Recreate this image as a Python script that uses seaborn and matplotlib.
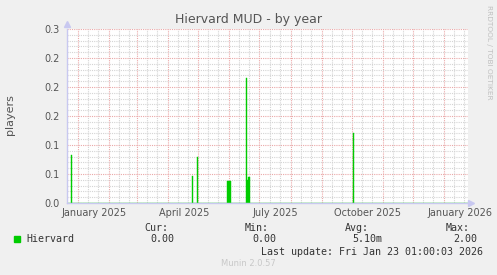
import numpy as np
import pandas as pd
import matplotlib
matplotlib.use("Agg")
import matplotlib.pyplot as plt
import seaborn as sns

# ---- data ----
title = "Hiervard MUD - by year"
ylabel = "players"
start_date = "2024-12-21"
end_date = "2026-01-25"
event_dates = ["2024-12-25", "2025-04-25", "2025-04-30",
               "2025-05-30", "2025-05-31", "2025-06-01", "2025-06-02",
               "2025-06-18", "2025-06-19", "2025-06-20", "2025-06-21",
               "2025-10-02"]
event_values = [0.083, 0.047, 0.080,
                0.038, 0.038, 0.038, 0.038,
                0.215, 0.040, 0.045, 0.045,
                0.120]
month_labels = ["January 2025", "April 2025", "July 2025", "October 2025", "January 2026"]
month_label_dates = ["2025-01-17", "2025-04-17", "2025-07-17", "2025-10-17", "2026-01-17"]
legend_name = "Hiervard"
stat_names = ["Cur:", "Min:", "Avg:", "Max:"]
stat_values = ["0.00", "0.00", "5.10m", "2.00"]
last_update = "Last update: Fri Jan 23 01:00:03 2026"
version = "Munin 2.0.57"

W, H = 497, 275
sns.set_style("white")
plt.rcParams['font.family'] = ['DejaVu Sans']

t0 = pd.Timestamp(start_date)
def off(d):
    return (pd.Timestamp(d) - t0).days

span = off(end_date)
df = pd.DataFrame({"day": [off(d) + 0.5 for d in event_dates], "value": event_values})

fig = plt.figure(figsize=(W / 100, H / 100), dpi=100, facecolor="#F0F0F0")
ax = fig.add_axes([67 / W, 1 - 203 / H, 401 / W, 174 / H])
ax.set_facecolor("white")

green = "#00CC00"
sns.histplot(data=df, x="day", weights="value", binwidth=1, binrange=(0, span),
             color=green, alpha=1.0, edgecolor=green, linewidth=0.3, ax=ax, stat="count")

ax.set_xlim(0, span)
ax.set_ylim(0, 0.30)

# grid lines
major_red = "#EAA8A8"
minor_gray = "#D4D4D4"
months = pd.date_range("2025-01-01", end_date, freq="MS")
month_x = [off(m) for m in months]
minor_days = [off(d) for d in pd.date_range(start_date, end_date, freq="D") if d.day in (11, 21)]
ax.set_xticks(month_x)
ax.set_xticks(minor_days, minor=True)
ax.set_xticklabels([])
ax.tick_params(axis="x", which="major", length=3, color=major_red, direction="out")
ax.tick_params(axis="x", which="minor", length=2, color=minor_gray, direction="out")

yt = np.arange(0, 0.301, 0.05)
ax.set_yticks(yt)
ax.set_yticks(np.arange(0, 0.301, 0.01), minor=True)
ax.set_yticklabels([f"{v:.1f}" for v in yt], fontsize=7, color="#555555")
ax.tick_params(axis="y", which="major", length=2, color=major_red, pad=3)
ax.tick_params(axis="y", which="minor", length=2, color=minor_gray)

ax.grid(True, which="minor", axis="both", color=minor_gray, linestyle=(0, (1, 1)), linewidth=0.8)
ax.grid(True, which="major", axis="both", color=major_red, linestyle=(0, (1, 1)), linewidth=0.8)
ax.set_axisbelow(True)

for sp in ["top", "right"]:
    ax.spines[sp].set_visible(False)
for sp in ["left", "bottom"]:
    ax.spines[sp].set_color("#C8C8F0")
    ax.spines[sp].set_linewidth(1)
ax.plot([0], [1.03], marker="^", color="#C8C8F0", markersize=4,
        transform=ax.transAxes, clip_on=False)
ax.plot([1.008], [0], marker=">", color="#C8C8F0", markersize=4,
        transform=ax.transAxes, clip_on=False)

for lab, d in zip(month_labels, month_label_dates):
    ax.text(off(d), -0.03, lab, transform=ax.get_xaxis_transform(),
            ha="center", va="top", fontsize=7, color="#555555")

ax.set_xlabel("")
ax.set_ylabel("")

def ftext(x, y, s, **kw):
    fig.text(x / W, 1 - y / H, s, **kw)

ftext(249, 19.5, title, ha="center", va="center", fontsize=9, color="#555555")
ftext(10, 115, ylabel, ha="center", va="center", rotation=90, fontsize=8, color="#555555")
ftext(489, 52, "RRDTOOL / TOBI OETIKER", ha="center", va="center", rotation=270,
      fontsize=5.3, color="#C0C0C0")

mono = "DejaVu Sans Mono"
fig.patches.append(plt.Rectangle((14 / W, 1 - 242 / H), 6 / W, 6 / H,
                                 transform=fig.transFigure, color=green))
ftext(26, 239, legend_name, ha="left", va="center", fontsize=7.2, family=mono, color="#333333")
name_x = [168, 269, 369, 470]
val_x = [174, 276, 382, 477]
for n, v, nx, vx in zip(stat_names, stat_values, name_x, val_x):
    ftext(nx, 228, n, ha="right", va="center", fontsize=7.2, family=mono, color="#333333")
    ftext(vx, 239, v, ha="right", va="center", fontsize=7.2, family=mono, color="#333333")
ftext(483, 252, last_update, ha="right", va="center", fontsize=7.2, family=mono, color="#333333")
ftext(248, 264, version, ha="center", va="center", fontsize=6, color="#C8C8C8")

fig.savefig("out.png", dpi=100, facecolor=fig.get_facecolor())
